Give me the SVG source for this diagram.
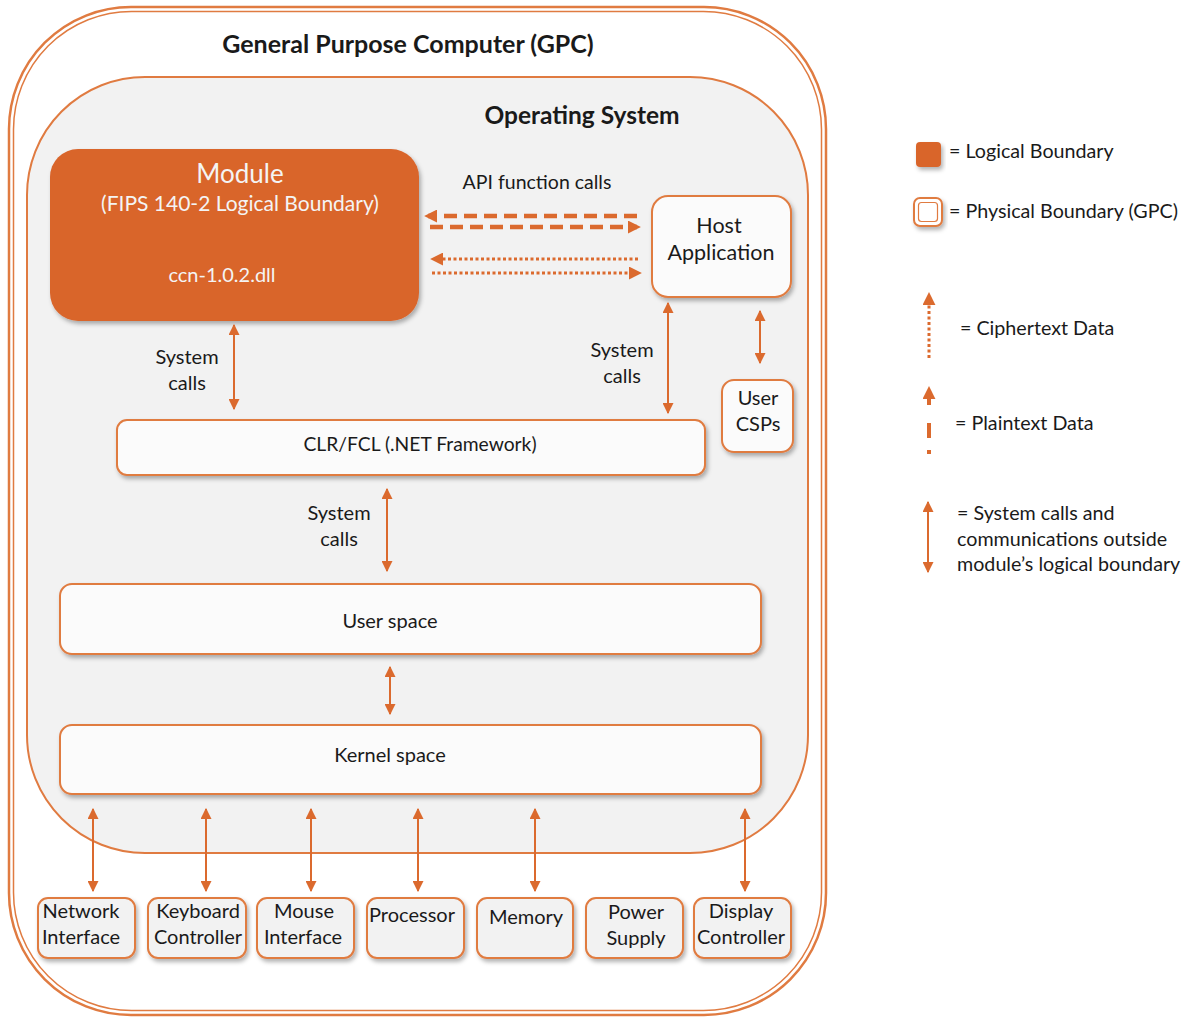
<svg xmlns="http://www.w3.org/2000/svg" width="1190" height="1018" viewBox="0 0 1190 1018">
<defs>
<style>
text{font-family:Lato,"Open Sans","Liberation Sans",sans-serif;fill:#1a1a1a;}
.t{font-size:20px;text-anchor:middle;}
.lg{font-size:19.7px;}
.box{fill:#f2f2f2;stroke:#e07b41;stroke-width:2;}
.wbox{fill:#fbfbfb;stroke:#e07b41;stroke-width:2;}
.sys{stroke:#db6a2e;stroke-width:2;fill:none;marker-start:url(#ah);marker-end:url(#ah);}
.frame{fill:none;stroke:#e07b41;}
</style>
<marker id="ah" viewBox="0 0 10 10" refX="9" refY="5" markerWidth="11" markerHeight="11" markerUnits="userSpaceOnUse" orient="auto-start-reverse">
<path d="M0,0 L10,5 L0,10 z" fill="#db6a2e"/>
</marker>
<marker id="ahb" viewBox="0 0 10 10" refX="7" refY="5" markerWidth="13" markerHeight="13" markerUnits="userSpaceOnUse" orient="auto-start-reverse">
<path d="M0,0 L10,5 L0,10 z" fill="#db6a2e"/>
</marker>
<filter id="sh" x="-10%" y="-10%" width="130%" height="140%">
<feDropShadow dx="2" dy="3" stdDeviation="2" flood-color="#000" flood-opacity="0.3"/>
</filter>
</defs>
<rect width="1190" height="1018" fill="#ffffff"/>

<g id="gpc">
<rect class="frame" x="9" y="7" width="817" height="1008" rx="122" stroke-width="2.5"/>
<rect class="frame" x="13.5" y="11.5" width="808" height="999" rx="118" stroke-width="1.5"/>
<text x="408" y="53" style="font-size:25px;font-weight:bold;text-anchor:middle">General Purpose Computer (GPC)</text>
</g>

<g id="os">
<rect x="27" y="77" width="781" height="776" rx="118" fill="#f2f2f2" stroke="#e07b41" stroke-width="2"/>
<text x="582" y="124" style="font-size:24.5px;font-weight:bold;text-anchor:middle">Operating System</text>
</g>

<g id="module">
<rect x="50" y="149" width="369" height="172" rx="28" fill="#d9652b" filter="url(#sh)"/>
<text x="240" y="183" style="font-size:26px;text-anchor:middle;fill:#f4f4f4">Module</text>
<text x="240" y="211" style="font-size:21px;text-anchor:middle;fill:#f4f4f4">(FIPS 140-2 Logical Boundary)</text>
<text x="222" y="282" style="font-size:20px;text-anchor:middle;fill:#f4f4f4">ccn-1.0.2.dll</text>
</g>

<g id="host">
<rect class="wbox" x="652" y="196" width="139" height="101" rx="16" filter="url(#sh)"/>
<text x="719" y="233" style="font-size:21.5px;text-anchor:middle">Host</text>
<text x="721" y="260" style="font-size:21.5px;text-anchor:middle">Application</text>
</g>

<g id="usercsps">
<rect class="wbox" x="722" y="380" width="71" height="72" rx="12" filter="url(#sh)"/>
<text class="t" x="758" y="405">User</text>
<text class="t" x="758" y="431">CSPs</text>
</g>

<g id="clr">
<rect class="wbox" x="117" y="420" width="588" height="55" rx="10" filter="url(#sh)"/>
<text x="420" y="451" style="font-size:19.3px;text-anchor:middle">CLR/FCL (.NET Framework)</text>
</g>

<g id="userspace">
<rect class="wbox" x="60" y="584" width="701" height="70" rx="12" filter="url(#sh)"/>
<text class="t" x="390" y="628">User space</text>
</g>

<g id="kernelspace">
<rect class="wbox" x="60" y="725" width="701" height="69" rx="12" filter="url(#sh)"/>
<text class="t" x="390" y="762">Kernel space</text>
</g>

<g id="hw-network">
<rect class="box" x="38" y="898" width="97" height="60" rx="10" filter="url(#sh)"/>
<text class="t" x="81" y="918">Network</text>
<text class="t" x="81" y="944">Interface</text>
</g>
<g id="hw-keyboard">
<rect class="box" x="148" y="898" width="98" height="60" rx="10" filter="url(#sh)"/>
<text class="t" x="198" y="918">Keyboard</text>
<text class="t" x="198" y="944">Controller</text>
</g>
<g id="hw-mouse">
<rect class="box" x="257" y="898" width="97" height="60" rx="10" filter="url(#sh)"/>
<text class="t" x="304" y="918">Mouse</text>
<text class="t" x="303" y="944">Interface</text>
</g>
<g id="hw-processor">
<rect class="box" x="367" y="898" width="97" height="60" rx="10" filter="url(#sh)"/>
<text class="t" x="412" y="922">Processor</text>
</g>
<g id="hw-memory">
<rect class="box" x="477" y="898" width="96" height="60" rx="10" filter="url(#sh)"/>
<text class="t" x="526" y="924">Memory</text>
</g>
<g id="hw-power">
<rect class="box" x="586" y="898" width="97" height="60" rx="10" filter="url(#sh)"/>
<text class="t" x="636" y="919">Power</text>
<text class="t" x="636" y="945">Supply</text>
</g>
<g id="hw-display">
<rect class="box" x="694" y="898" width="97" height="60" rx="10" filter="url(#sh)"/>
<text class="t" x="741" y="918">Display</text>
<text class="t" x="741" y="944">Controller</text>
</g>

<g id="connectors">
<g stroke="#db6a2e" fill="none">
<line x1="637" y1="216" x2="428" y2="216" stroke-width="4.5" stroke-dasharray="13 7" marker-end="url(#ahb)"/>
<line x1="430" y1="227" x2="637" y2="227" stroke-width="4.5" stroke-dasharray="13 7" marker-end="url(#ahb)"/>
<line x1="638" y1="259" x2="434" y2="259" stroke-width="3" stroke-dasharray="3 2.5" marker-end="url(#ahb)"/>
<line x1="432" y1="273" x2="638" y2="273" stroke-width="3" stroke-dasharray="3 2.5" marker-end="url(#ahb)"/>
</g>
<line class="sys" x1="234" y1="325" x2="234" y2="409"/>
<line class="sys" x1="668" y1="303" x2="668" y2="413"/>
<line class="sys" x1="760" y1="311" x2="760" y2="363"/>
<line class="sys" x1="387" y1="489" x2="387" y2="571"/>
<line class="sys" x1="390" y1="667" x2="390" y2="714"/>
<line class="sys" x1="93" y1="809" x2="93" y2="891"/>
<line class="sys" x1="206" y1="809" x2="206" y2="891"/>
<line class="sys" x1="311" y1="809" x2="311" y2="891"/>
<line class="sys" x1="418" y1="809" x2="418" y2="891"/>
<line class="sys" x1="535" y1="809" x2="535" y2="891"/>
<line class="sys" x1="745" y1="809" x2="745" y2="891"/>
<text x="537" y="189" style="font-size:19.5px;text-anchor:middle">API function calls</text>
<text class="t" x="187" y="364">System</text>
<text class="t" x="187" y="390">calls</text>
<text class="t" x="622" y="357">System</text>
<text class="t" x="622" y="383">calls</text>
<text class="t" x="339" y="520">System</text>
<text class="t" x="339" y="546">calls</text>
</g>

<g id="legend">
<rect x="916" y="142" width="25" height="25" rx="4" fill="#d9652b" filter="url(#sh)"/>
<text class="lg" x="949" y="158">= Logical Boundary</text>
<rect x="914" y="198" width="28" height="28" rx="6" fill="#fff" stroke="#e07b41" stroke-width="2" filter="url(#sh)"/>
<rect x="918.5" y="202.5" width="19" height="19" rx="3" fill="#fff" stroke="#e07b41" stroke-width="1.2"/>
<text class="lg" x="949" y="218">= Physical Boundary (GPC)</text>
<line x1="929" y1="358" x2="929" y2="296" stroke="#db6a2e" stroke-width="3" stroke-dasharray="3 2.5" marker-end="url(#ahb)"/>
<text class="lg" x="960" y="335">= Ciphertext Data</text>
<path d="M929,405 V393 M929,423 V438 M929,450 V454" stroke="#db6a2e" stroke-width="4" fill="none"/>
<line x1="929" y1="395" x2="929" y2="390" stroke="#db6a2e" stroke-width="4" marker-end="url(#ahb)"/>
<text class="lg" x="955" y="430">= Plaintext Data</text>
<line class="sys" x1="928" y1="502" x2="928" y2="572"/>
<text class="lg" x="957" y="520">= System calls and</text>
<text class="lg" x="957" y="546">communications outside</text>
<text class="lg" x="957" y="571">module’s logical boundary</text>
</g>
</svg>
